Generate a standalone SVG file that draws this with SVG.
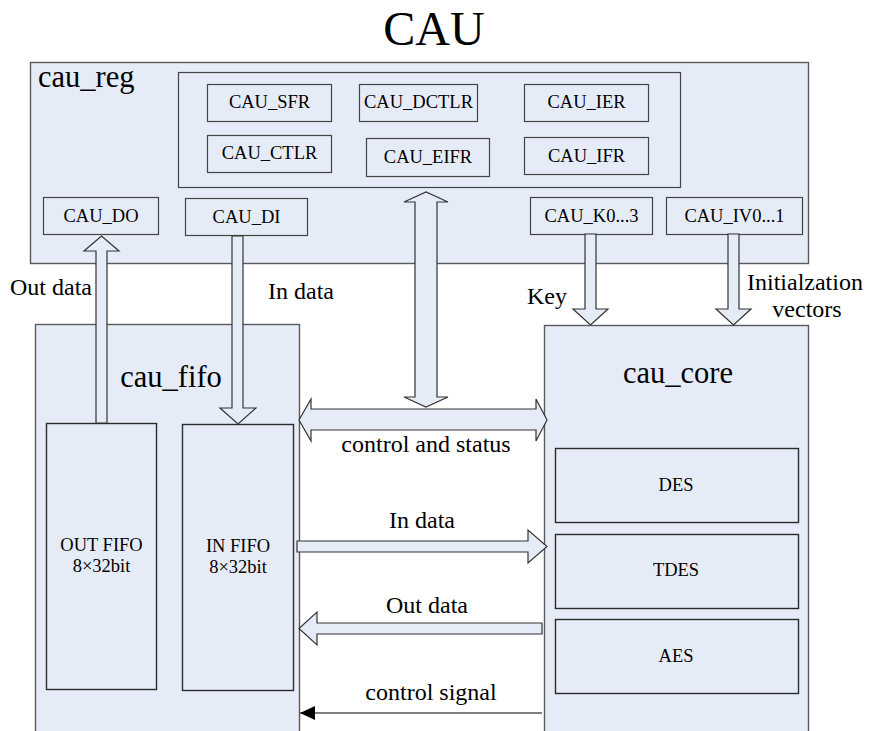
<svg xmlns="http://www.w3.org/2000/svg" width="869" height="731" viewBox="0 0 869 731">
<style>
  text { font-family: "Liberation Serif", "Times New Roman", serif; fill: #000; }
  .box { fill: #e6ecf7; stroke: #5a5a5a; stroke-width: 1.4; }
  .reg { fill: #e6ecf7; stroke: #444; stroke-width: 1.2; }
  .blk { fill: #e6ecf7; stroke: #2a2a2a; stroke-width: 1.4; }
  .fat { fill: #e6ecf7; stroke: #333; stroke-width: 1.2; stroke-linejoin: miter; }
  .r { font-family: "Liberation Serif", "Times New Roman", serif; font-size: 18.5px; text-anchor: middle; }
  .lbl { font-family: "Liberation Serif", "Times New Roman", serif; font-size: 24px; }
  .big { font-family: "Liberation Serif", "Times New Roman", serif; font-size: 30.5px; }
</style>
<defs>
  <marker id="tri" markerWidth="16" markerHeight="14" refX="15" refY="7" orient="auto" markerUnits="userSpaceOnUse">
    <path d="M0,0 L15,7 L0,14 Z" fill="#000"/>
  </marker>
</defs>

<text x="434" y="45" font-size="48" text-anchor="middle" font-family="Liberation Serif, serif">CAU</text>

<g id="cau_reg">
  <rect class="box" x="30.5" y="62.5" width="778" height="201"/>
  <text class="big" x="38" y="87">cau_reg</text>
  <rect class="reg" x="178.5" y="72.5" width="502" height="115"/>
</g>
<g id="CAU_SFR"><rect class="reg" x="207.5" y="84.5" width="124" height="37"/><text class="r" x="269.5" y="108">CAU_SFR</text></g>
<g id="CAU_DCTLR"><rect class="reg" x="359.5" y="84.5" width="118" height="37"/><text class="r" x="418.5" y="108">CAU_DCTLR</text></g>
<g id="CAU_IER"><rect class="reg" x="524.5" y="84.5" width="124" height="37"/><text class="r" x="586.5" y="108">CAU_IER</text></g>
<g id="CAU_CTLR"><rect class="reg" x="207.5" y="135.5" width="124" height="37"/><text class="r" x="269.5" y="159">CAU_CTLR</text></g>
<g id="CAU_EIFR"><rect class="reg" x="366.5" y="138.5" width="123" height="38"/><text class="r" x="428" y="163">CAU_EIFR</text></g>
<g id="CAU_IFR"><rect class="reg" x="524.5" y="137.5" width="124" height="37"/><text class="r" x="586.5" y="162">CAU_IFR</text></g>
<g id="CAU_DO"><rect class="reg" x="43.5" y="197.5" width="115" height="37"/><text class="r" x="101" y="222">CAU_DO</text></g>
<g id="CAU_DI"><rect class="reg" x="185.5" y="198.5" width="122" height="37"/><text class="r" x="246.5" y="223">CAU_DI</text></g>
<g id="CAU_K0_3"><rect class="reg" x="530.5" y="197.5" width="122" height="37"/><text class="r" x="591.5" y="222">CAU_K0...3</text></g>
<g id="CAU_IV0_1"><rect class="reg" x="666.5" y="197.5" width="136" height="37"/><text class="r" x="734.5" y="222">CAU_IV0...1</text></g>

<g id="cau_fifo">
  <rect class="box" x="35.5" y="324.5" width="264" height="420"/>
  <text class="big" x="171" y="387" text-anchor="middle">cau_fifo</text>
</g>
<g id="OUT_FIFO">
  <rect class="blk" x="46.5" y="423.5" width="110" height="266"/>
  <text class="r" x="101.5" y="551">OUT FIFO</text>
  <text class="r" x="101.5" y="572">8×32bit</text>
</g>
<g id="IN_FIFO">
  <rect class="blk" x="182.5" y="424.5" width="111" height="266"/>
  <text class="r" x="238" y="552">IN FIFO</text>
  <text class="r" x="238" y="573">8×32bit</text>
</g>

<g id="cau_core">
  <rect class="box" x="544.5" y="325.5" width="264" height="420"/>
  <text class="big" x="678" y="383" text-anchor="middle">cau_core</text>
</g>
<g id="DES"><rect class="blk" x="555.5" y="448.5" width="243" height="74"/><text class="r" x="676" y="491">DES</text></g>
<g id="TDES"><rect class="blk" x="555.5" y="534.5" width="243" height="74"/><text class="r" x="676" y="576">TDES</text></g>
<g id="AES"><rect class="blk" x="555.5" y="619.5" width="243" height="74"/><text class="r" x="676" y="662">AES</text></g>

<g id="connectors">
  <polygon class="fat" points="96,423 96,251 84,251 101.5,236 119,251 107,251 107,423"/>
  <polygon class="fat" points="232,236 232,408 220,408 238,424 256,408 243,408 243,236"/>
  <polygon class="fat" points="415,202 404,202 426,192 448,202 437,202 437,397 448,397 426,407 404,397 415,397"/>
  <polygon class="fat" points="311,409 311,399 299,420 311,441 311,430 536,430 536,441 547,420 536,399 536,409"/>
  <polygon class="fat" points="585,234 585,309 573,309 590.5,325 608,309 596,309 596,234"/>
  <polygon class="fat" points="728,234 728,309 716,309 733.5,325 751,309 739,309 739,234"/>
  <polygon class="fat" points="297,541 528,541 528,530 547,546.5 528,563 528,552 297,552"/>
  <polygon class="fat" points="542,623 317,623 317,612 299,628.5 317,645 317,634 542,634"/>
  <line x1="542" y1="713" x2="300" y2="713" stroke="#000" stroke-width="1.2" marker-end="url(#tri)"/>

  <text class="lbl" x="10" y="295">Out data</text>
  <text class="lbl" x="268" y="299">In data</text>
  <text class="lbl" x="527" y="304">Key</text>
  <text class="lbl" x="747" y="290">Initialzation</text>
  <text class="lbl" x="807" y="317" text-anchor="middle">vectors</text>
  <text class="lbl" x="426" y="452" text-anchor="middle">control and status</text>
  <text class="lbl" x="422" y="528" text-anchor="middle">In data</text>
  <text class="lbl" x="427" y="613" text-anchor="middle">Out data</text>
  <text class="lbl" x="431" y="700" text-anchor="middle">control signal</text>
</g>
</svg>
